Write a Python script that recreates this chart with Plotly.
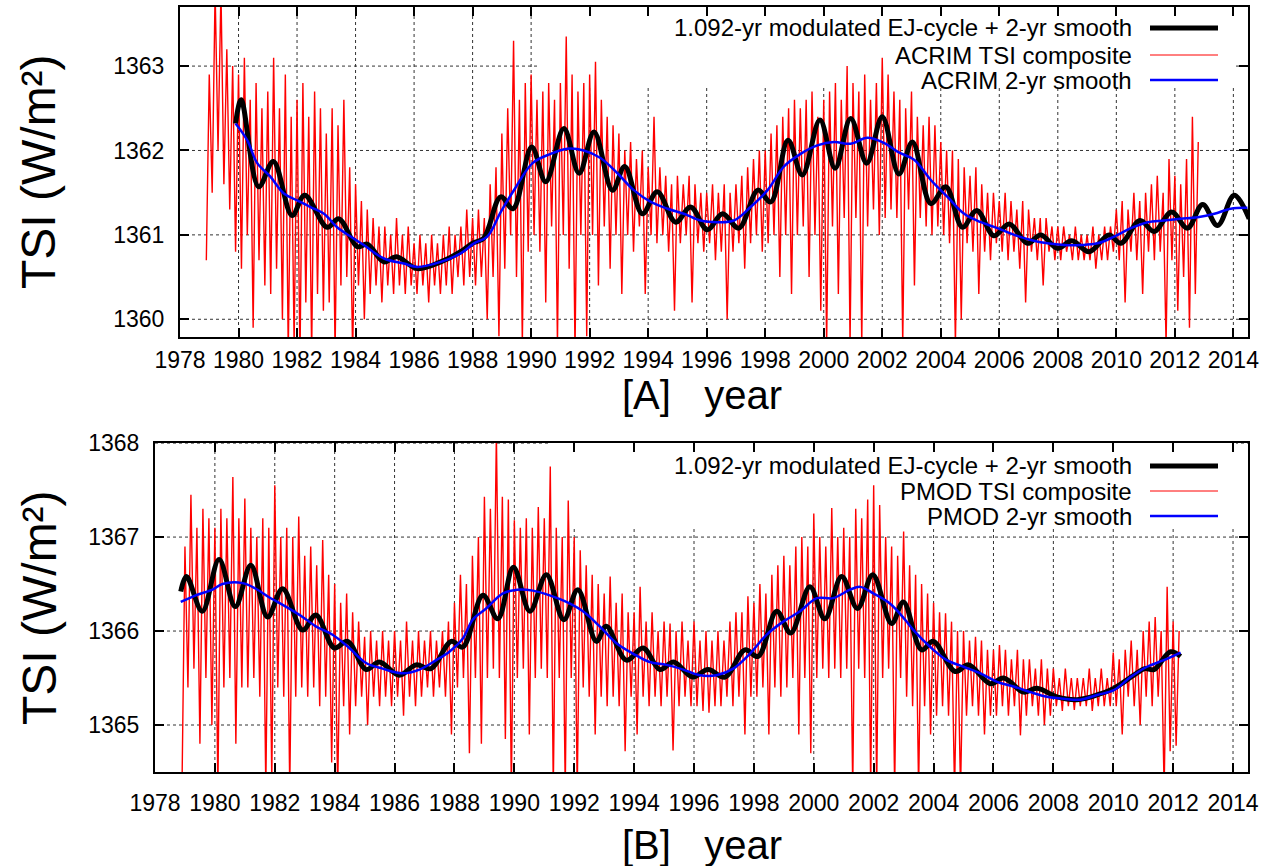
import numpy as np
import plotly.graph_objects as go

# ---------------- data ----------------
year_ticks = list(range(1978, 2015, 2))
acrim_yticks = [1360, 1361, 1362, 1363]
pmod_yticks = [1365, 1366, 1367, 1368]

# ACRIM TSI composite, sampled every 0.1 yr from 1978.9 (alternating upper/lower excursions)
acrim_red_start = 1978.9
acrim_red_step = 0.1
acrim_red = [
    1360.7,
    1362.9, 1361.5, 1363.9, 1362.0, 1363.9, 1361.6, 1363.2, 1361.3, 1363.0, 1360.8,
    1362.9, 1360.6, 1363.1, 1361.0, 1362.6, 1359.9, 1362.8, 1360.7, 1362.5, 1360.4,
    1362.7, 1360.3, 1363.1, 1360.6, 1362.5, 1360.0, 1362.9, 1359.6, 1362.4, 1359.7,
    1362.6, 1359.5, 1362.8, 1360.2, 1362.4, 1359.6, 1362.7, 1360.3, 1362.5, 1360.1,
    1362.2, 1360.2, 1362.5, 1359.6, 1362.3, 1360.4, 1362.6, 1360.5, 1361.8, 1359.6,
    1361.6, 1360.4, 1361.4, 1360.0, 1361.3, 1360.3, 1361.2, 1360.4, 1361.1, 1360.2,
    1361.1, 1360.4, 1361.0, 1360.3, 1361.2, 1360.4, 1361.0, 1360.3, 1361.1, 1360.4,
    1360.9, 1360.3, 1361.0, 1360.4, 1360.9, 1360.2, 1361.0, 1360.4, 1360.9, 1360.3,
    1361.0, 1360.4, 1361.1, 1360.3, 1361.0, 1360.5, 1361.1, 1360.4, 1361.3, 1360.5,
    1361.2, 1360.4, 1361.3, 1360.5, 1361.2, 1360.0, 1361.6, 1360.5, 1361.8, 1359.8,
    1362.2, 1360.6, 1362.5, 1361.0, 1363.3, 1360.5, 1362.6, 1359.7, 1362.8, 1360.8,
    1362.9, 1361.0, 1362.6, 1360.8, 1362.7, 1360.2, 1362.8, 1361.1, 1362.6, 1359.7,
    1362.8, 1361.0, 1363.35, 1360.6, 1362.9, 1359.6, 1362.7, 1361.0, 1362.8, 1359.8,
    1362.9, 1361.0, 1363.05, 1360.4, 1362.6, 1361.1, 1362.4, 1360.6, 1362.3, 1361.0,
    1362.2, 1360.3, 1362.0, 1361.0, 1362.1, 1360.8, 1361.9, 1361.1, 1362.0, 1360.3,
    1361.8, 1361.0, 1362.4, 1360.9, 1361.8, 1361.0, 1361.7, 1360.8, 1361.6, 1360.1,
    1361.7, 1360.9, 1361.6, 1361.0, 1361.7, 1360.2, 1361.6, 1360.9, 1361.5, 1360.8,
    1361.5, 1360.9, 1361.6, 1360.7, 1361.5, 1360.8, 1361.6, 1360.0, 1361.5, 1360.8,
    1361.6, 1360.9, 1361.7, 1360.6, 1361.8, 1360.9, 1361.9, 1361.0, 1362.0, 1360.8,
    1362.0, 1360.9, 1362.2, 1361.0, 1362.3, 1360.5, 1362.4, 1361.0, 1362.5, 1360.3,
    1362.6, 1361.0, 1362.5, 1361.1, 1362.6, 1360.5, 1362.7, 1361.0, 1362.4, 1360.1,
    1362.6, 1359.7, 1362.7, 1361.1, 1362.8, 1360.3, 1362.6, 1361.2, 1363.0, 1359.7,
    1362.8, 1361.2, 1362.7, 1359.7, 1362.9, 1361.1, 1362.6, 1361.3, 1362.8, 1361.0,
    1363.1, 1361.2, 1362.9, 1361.3, 1362.7, 1361.2, 1362.6, 1359.7, 1362.5, 1361.3,
    1362.7, 1360.4, 1362.4, 1361.2, 1362.3, 1361.1, 1362.4, 1361.0, 1362.3, 1361.1,
    1362.1, 1361.0, 1362.0, 1360.9, 1362.0, 1359.7, 1361.9, 1360.0, 1361.8, 1360.9,
    1361.7, 1360.8, 1361.8, 1360.3, 1361.6, 1360.8, 1361.5, 1360.7, 1361.5, 1360.9,
    1361.4, 1360.8, 1361.5, 1360.7, 1361.4, 1360.8, 1361.3, 1360.6, 1361.4, 1360.2,
    1361.3, 1360.8, 1361.2, 1360.7, 1361.2, 1360.4, 1361.2, 1360.8, 1361.1, 1360.7,
    1361.1, 1360.7, 1361.1, 1360.8, 1361.0, 1360.7, 1361.1, 1360.7, 1361.0, 1360.7,
    1361.0, 1360.7, 1361.1, 1360.6, 1361.0, 1360.7, 1361.1, 1360.7, 1361.1, 1360.8,
    1361.3, 1360.7, 1361.4, 1360.2, 1361.3, 1360.8, 1361.5, 1360.7, 1361.4, 1360.3,
    1361.5, 1360.8, 1361.6, 1360.7, 1361.7, 1360.8, 1361.5, 1359.7, 1361.9, 1360.7,
    1361.7, 1360.1, 1361.6, 1360.5, 1361.9, 1359.9, 1362.4, 1360.3, 1362.1,
]

# PMOD TSI composite, sampled every 0.1 yr from 1978.9
pmod_red_start = 1978.9
pmod_red_step = 0.1
pmod_red = [
    1364.3,
    1366.9, 1365.4, 1367.45, 1365.6, 1367.1, 1364.8, 1367.3, 1365.5, 1367.2, 1365.0,
    1367.1, 1364.3, 1367.3, 1365.4, 1367.2, 1365.5, 1367.64, 1364.8, 1367.2, 1365.4,
    1367.41, 1365.4, 1367.1, 1365.5, 1367.0, 1365.3, 1367.2, 1364.3, 1367.1, 1364.4,
    1367.55, 1365.4, 1367.0, 1365.3, 1367.1, 1364.3, 1367.0, 1365.3, 1367.22, 1365.4,
    1366.8, 1365.3, 1366.9, 1365.4, 1366.7, 1365.2, 1366.97, 1365.3, 1366.6, 1364.6,
    1366.5, 1364.3, 1366.3, 1365.2, 1366.4, 1364.9, 1366.2, 1365.2, 1366.1, 1365.3,
    1365.94, 1365.0, 1366.0, 1365.3, 1365.9, 1365.2, 1366.0, 1365.3, 1365.9, 1365.2,
    1366.0, 1365.3, 1365.9, 1365.1, 1366.1, 1365.3, 1365.9, 1365.2, 1366.0, 1365.3,
    1365.9, 1365.4, 1366.0, 1365.3, 1365.9, 1365.4, 1366.0, 1365.3, 1366.1, 1364.9,
    1366.3, 1365.4, 1366.6, 1365.5, 1366.5, 1364.7, 1366.8, 1365.5, 1367.0, 1364.8,
    1367.43, 1365.5, 1367.3, 1365.6, 1368.1, 1365.5, 1367.43, 1364.85, 1367.4, 1364.3,
    1367.18, 1365.5, 1367.1, 1365.6, 1367.2, 1364.9, 1367.1, 1365.5, 1367.32, 1365.6,
    1367.2, 1365.5, 1367.75, 1364.3, 1367.1, 1365.5, 1367.0, 1364.3, 1367.39, 1365.5,
    1367.0, 1364.3, 1366.86, 1365.4, 1366.7, 1365.3, 1366.6, 1364.9, 1366.5, 1365.3,
    1366.4, 1365.2, 1366.58, 1365.3, 1366.3, 1365.2, 1366.4, 1364.72, 1366.2, 1365.3,
    1366.2, 1364.9, 1366.47, 1365.3, 1366.1, 1365.2, 1366.2, 1365.3, 1366.0, 1365.2,
    1366.1, 1365.3, 1366.08, 1364.73, 1366.0, 1365.2, 1366.1, 1365.3, 1365.9, 1365.2,
    1366.1, 1365.2, 1365.9, 1365.15, 1366.0, 1365.13, 1365.9, 1365.2, 1366.0, 1365.2,
    1365.9, 1365.3, 1366.1, 1365.2, 1366.2, 1365.3, 1366.2, 1364.9, 1366.37, 1365.3,
    1366.3, 1365.3, 1366.5, 1365.4, 1366.4, 1364.9, 1366.6, 1365.4, 1366.7, 1365.3,
    1366.8, 1365.4, 1366.7, 1365.5, 1366.9, 1364.9, 1367.0, 1365.5, 1366.9, 1364.7,
    1367.25, 1365.5, 1367.0, 1365.6, 1366.9, 1365.5, 1367.31, 1365.6, 1367.0, 1365.5,
    1367.1, 1365.6, 1367.0, 1364.3, 1367.3, 1365.6, 1367.2, 1365.5, 1367.4, 1364.3,
    1367.55, 1364.3, 1367.34, 1365.5, 1367.0, 1365.6, 1366.9, 1364.3, 1366.8, 1365.5,
    1367.06, 1365.3, 1366.7, 1365.2, 1366.6, 1364.3, 1366.5, 1365.2, 1366.4, 1364.9,
    1366.3, 1365.1, 1366.2, 1365.2, 1366.19, 1365.1, 1366.1, 1364.3, 1366.0, 1364.3,
    1366.0, 1365.1, 1365.9, 1365.2, 1365.94, 1365.1, 1365.9, 1364.9, 1365.8, 1365.1,
    1365.8, 1365.1, 1365.85, 1365.2, 1365.8, 1365.1, 1365.7, 1365.2, 1365.8, 1364.89,
    1365.7, 1365.1, 1365.7, 1365.2, 1365.6, 1365.1, 1365.7, 1365.0, 1365.6, 1365.1,
    1365.6, 1365.2, 1365.5, 1365.15, 1365.6, 1365.2, 1365.5, 1365.16, 1365.5, 1365.2,
    1365.5, 1365.2, 1365.6, 1365.15, 1365.5, 1365.2, 1365.6, 1365.2, 1365.5, 1365.2,
    1365.77, 1365.2, 1365.7, 1364.9, 1365.8, 1365.3, 1365.9, 1365.2, 1365.8, 1365.0,
    1366.0, 1365.3, 1366.1, 1365.2, 1366.15, 1365.3, 1366.0, 1364.3, 1366.47, 1364.72,
    1366.1, 1364.78, 1366.0,
]

# 1.092-yr modulated EJ-cycle + 2-yr smooth (turning points)
acrim_ej_year = [1979.9, 1980.09, 1980.69, 1981.19, 1981.83, 1982.26, 1983.03, 1983.43, 1984.06,
                 1984.40, 1984.97, 1985.40, 1986.11, 1986.91, 1987.59, 1987.99, 1988.38, 1988.96,
                 1989.38, 1990.02, 1990.50, 1991.12, 1991.64, 1992.15, 1992.78, 1993.20, 1993.80,
                 1994.31, 1994.94, 1995.45, 1996.02, 1996.54, 1997.10, 1997.75, 1998.19, 1998.78,
                 1999.27, 1999.87, 2000.39, 2000.92, 2001.47, 2002.00, 2002.57, 2003.03, 2003.66,
                 2004.17, 2004.74, 2005.23, 2005.82, 2006.34, 2006.96, 2007.42, 2007.99, 2008.48,
                 2009.07, 2009.75, 2010.15, 2010.81, 2011.29, 2011.89, 2012.43, 2012.95, 2013.46,
                 2014.03, 2014.54]
acrim_ej_tsi = [1362.32, 1362.60, 1361.57, 1361.87, 1361.23, 1361.47, 1361.09, 1361.19, 1360.86,
                1360.89, 1360.68, 1360.74, 1360.60, 1360.68, 1360.80, 1360.90, 1360.96, 1361.45,
                1361.31, 1362.04, 1361.63, 1362.26, 1361.73, 1362.22, 1361.53, 1361.81, 1361.25,
                1361.51, 1361.15, 1361.33, 1361.06, 1361.25, 1361.08, 1361.53, 1361.39, 1362.12,
                1361.71, 1362.36, 1361.79, 1362.38, 1361.85, 1362.40, 1361.72, 1362.10, 1361.37,
                1361.57, 1361.09, 1361.29, 1360.99, 1361.13, 1360.90, 1361.00, 1360.84, 1360.93,
                1360.80, 1361.00, 1360.90, 1361.17, 1361.04, 1361.27, 1361.08, 1361.36, 1361.11,
                1361.47, 1361.19]

acrim_smooth_year = [1979.9, 1980.30, 1980.64, 1981.09, 1981.55, 1982.00, 1982.46, 1982.92, 1983.37,
                     1983.83, 1984.28, 1984.97, 1985.65, 1986.11, 1986.91, 1987.59, 1988.05, 1988.50,
                     1988.96, 1989.45, 1990.05, 1990.67, 1991.24, 1991.80, 1992.37, 1992.95, 1993.51,
                     1994.09, 1994.66, 1995.22, 1995.79, 1996.37, 1996.93, 1997.50, 1998.08, 1998.64,
                     1999.21, 1999.78, 2000.35, 2000.92, 2001.49, 2002.06, 2002.55, 2003.09, 2003.66,
                     2004.23, 2004.80, 2005.37, 2005.94, 2006.51, 2007.08, 2007.65, 2008.22, 2008.79,
                     2009.36, 2009.93, 2010.50, 2011.07, 2011.63, 2012.20, 2012.78, 2013.35, 2013.91,
                     2014.48]
acrim_smooth_tsi = [1362.32, 1362.12, 1361.85, 1361.69, 1361.49, 1361.41, 1361.33, 1361.25, 1361.09,
                    1360.98, 1360.88, 1360.72, 1360.66, 1360.62, 1360.68, 1360.78, 1360.90, 1360.98,
                    1361.27, 1361.55, 1361.85, 1361.96, 1362.02, 1362.00, 1361.91, 1361.73, 1361.53,
                    1361.39, 1361.31, 1361.25, 1361.17, 1361.15, 1361.17, 1361.33, 1361.53, 1361.81,
                    1361.96, 1362.06, 1362.10, 1362.08, 1362.15, 1362.09, 1361.98, 1361.89, 1361.65,
                    1361.45, 1361.25, 1361.15, 1361.08, 1361.00, 1360.94, 1360.90, 1360.88, 1360.88,
                    1360.90, 1360.98, 1361.08, 1361.15, 1361.17, 1361.19, 1361.21, 1361.25, 1361.31,
                    1361.32]

pmod_ej_year = [1978.86, 1979.05, 1979.58, 1980.14, 1980.68, 1981.20, 1981.76, 1982.26, 1982.93,
                1983.37, 1983.99, 1984.43, 1985.05, 1985.49, 1986.16, 1986.72, 1987.22, 1987.89,
                1988.28, 1988.95, 1989.45, 1989.97, 1990.52, 1991.07, 1991.65, 1992.12, 1992.74,
                1993.07, 1993.74, 1994.30, 1994.86, 1995.32, 1995.95, 1996.47, 1997.03, 1997.70,
                1998.14, 1998.76, 1999.23, 1999.87, 2000.37, 2000.93, 2001.46, 2001.97, 2002.60,
                2002.99, 2003.60, 2003.99, 2004.72, 2005.17, 2005.89, 2006.34, 2007.01, 2007.45,
                2008.12, 2008.79, 2009.46, 2010.02, 2010.69, 2011.05, 2011.36, 2011.91, 2012.25]
pmod_ej_tsi = [1366.42, 1366.58, 1366.21, 1366.76, 1366.26, 1366.70, 1366.15, 1366.45, 1366.01,
               1366.17, 1365.82, 1365.89, 1365.59, 1365.67, 1365.53, 1365.64, 1365.60, 1365.89,
               1365.83, 1366.38, 1366.13, 1366.68, 1366.21, 1366.60, 1366.12, 1366.44, 1365.89,
               1366.05, 1365.69, 1365.82, 1365.59, 1365.67, 1365.51, 1365.59, 1365.51, 1365.80,
               1365.73, 1366.21, 1365.98, 1366.47, 1366.13, 1366.58, 1366.24, 1366.60, 1366.08,
               1366.31, 1365.80, 1365.89, 1365.57, 1365.64, 1365.44, 1365.50, 1365.35, 1365.39,
               1365.30, 1365.27, 1365.32, 1365.39, 1365.53, 1365.60, 1365.59, 1365.78, 1365.73]

pmod_smooth_year = [1978.86, 1979.36, 1979.92, 1980.25, 1980.92, 1981.37, 1981.81, 1982.37, 1982.93,
                    1983.37, 1983.93, 1984.49, 1985.05, 1985.60, 1986.27, 1986.83, 1987.39, 1987.83,
                    1988.28, 1988.61, 1989.06, 1989.62, 1990.10, 1990.62, 1991.18, 1991.74, 1992.29,
                    1992.85, 1993.41, 1993.96, 1994.52, 1995.08, 1995.64, 1996.19, 1996.75, 1997.31,
                    1997.87, 1998.42, 1998.98, 1999.54, 2000.10, 2000.65, 2001.21, 2001.55, 2001.99,
                    2002.55, 2003.05, 2003.33, 2003.89, 2004.44, 2005.00, 2005.56, 2006.12, 2006.67,
                    2007.23, 2007.79, 2008.34, 2008.90, 2009.46, 2010.02, 2010.58, 2011.13, 2011.69,
                    2012.25]
pmod_smooth_tsi = [1366.31, 1366.38, 1366.44, 1366.50, 1366.51, 1366.45, 1366.36, 1366.26, 1366.15,
                   1366.05, 1365.96, 1365.82, 1365.66, 1365.60, 1365.55, 1365.59, 1365.69, 1365.78,
                   1365.92, 1366.12, 1366.24, 1366.40, 1366.44, 1366.43, 1366.38, 1366.31, 1366.21,
                   1366.05, 1365.87, 1365.76, 1365.67, 1365.64, 1365.59, 1365.53, 1365.53, 1365.60,
                   1365.76, 1365.96, 1366.10, 1366.21, 1366.35, 1366.35, 1366.44, 1366.47, 1366.40,
                   1366.29, 1366.12, 1366.01, 1365.83, 1365.69, 1365.62, 1365.55, 1365.46, 1365.41,
                   1365.35, 1365.30, 1365.28, 1365.27, 1365.32, 1365.37, 1365.51, 1365.62, 1365.69,
                   1365.77]

# ---------------- figure ----------------
WF, HF = 1276, 866
FONT = "Liberation Sans, Arial, sans-serif"


def px(x):
    return x / WF


def py(y):
    return 1 - y / HF


XR = [1978, 2014.5]
YR_A = [1359.79, 1363.70]
YR_B = [1364.5, 1368.001]
# panel pixel boxes: (left, right, top, bottom)
BOX_A = (180, 1248, 7, 337)
BOX_B = (155, 1248, 443, 772)


def to_data(box, xr, yr, X, Y):
    l, r, t, b = box
    xd = xr[0] + (X - l) / (r - l) * (xr[1] - xr[0])
    yd = yr[0] + (b - Y) / (b - t) * (yr[1] - yr[0])
    return xd, yd


acrim_red_x = np.round(acrim_red_start + acrim_red_step * np.arange(len(acrim_red)), 3)
pmod_red_x = np.round(pmod_red_start + pmod_red_step * np.arange(len(pmod_red)), 3)

RED_W = 1.4

fig = go.Figure()

# panel A
fig.add_trace(go.Scatter(x=acrim_red_x, y=acrim_red, mode="lines",
                         line=dict(color="#ff0000", width=RED_W), xaxis="x", yaxis="y",
                         name="ACRIM TSI composite", showlegend=False))
fig.add_trace(go.Scatter(x=acrim_ej_year, y=acrim_ej_tsi, mode="lines",
                         line=dict(color="black", width=5, shape="spline", smoothing=1.0),
                         xaxis="x", yaxis="y", showlegend=False,
                         name="1.092-yr modulated EJ-cycle + 2-yr smooth"))
fig.add_trace(go.Scatter(x=acrim_smooth_year, y=acrim_smooth_tsi, mode="lines",
                         line=dict(color="#0000ff", width=2.5, shape="spline"),
                         xaxis="x", yaxis="y", showlegend=False, name="ACRIM 2-yr smooth"))

# panel B
fig.add_trace(go.Scatter(x=pmod_red_x, y=pmod_red, mode="lines",
                         line=dict(color="#ff0000", width=RED_W), xaxis="x2", yaxis="y2",
                         name="PMOD TSI composite", showlegend=False))
fig.add_trace(go.Scatter(x=pmod_ej_year, y=pmod_ej_tsi, mode="lines",
                         line=dict(color="black", width=5, shape="spline", smoothing=1.0),
                         xaxis="x2", yaxis="y2", showlegend=False,
                         name="1.092-yr modulated EJ-cycle + 2-yr smooth"))
fig.add_trace(go.Scatter(x=pmod_smooth_year, y=pmod_smooth_tsi, mode="lines",
                         line=dict(color="#0000ff", width=2.5, shape="spline"),
                         xaxis="x2", yaxis="y2", showlegend=False, name="PMOD 2-yr smooth"))

axis_common = dict(
    showline=True, linecolor="black", linewidth=2, mirror="allticks",
    ticks="inside", ticklen=9, tickwidth=1.5, tickcolor="black",
    showgrid=False, zeroline=False, automargin=False,
    tickfont=dict(family=FONT, size=23, color="black"),
)

fig.update_layout(
    width=WF, height=HF, margin=dict(l=0, r=0, t=0, b=0, autoexpand=False),
    paper_bgcolor="white", plot_bgcolor="white", showlegend=False,
    font=dict(family=FONT, color="black"),
    xaxis=dict(domain=[px(BOX_A[0]), px(BOX_A[1])], range=XR, anchor="y",
               tickvals=year_ticks, ticklabelstandoff=1, **axis_common),
    yaxis=dict(domain=[py(BOX_A[3]), py(BOX_A[2])], range=YR_A, anchor="x",
               tickvals=acrim_yticks, ticklabelstandoff=9, **axis_common),
    xaxis2=dict(domain=[px(BOX_B[0]), px(BOX_B[1])], range=XR, anchor="y2",
                tickvals=year_ticks, ticklabelstandoff=9, **axis_common),
    yaxis2=dict(domain=[py(BOX_B[3]), py(BOX_B[2])], range=YR_B, anchor="x2",
                tickvals=pmod_yticks, ticklabelstandoff=9, **axis_common),
)

# dotted grid (drawn as below-trace shapes) and key boxes that hide it
grid_line = dict(color="#333333", width=1, dash="dot")
for xa, ya, yr, yt in (("x", "y", YR_A, acrim_yticks), ("x2", "y2", YR_B, pmod_yticks)):
    for xv in year_ticks[1:]:
        fig.add_shape(type="line", xref=xa, yref=ya, x0=xv, x1=xv, y0=yr[0], y1=yr[1],
                      line=grid_line, layer="below")
    for yv in yt:
        fig.add_shape(type="line", xref=xa, yref=ya, x0=XR[0], x1=XR[1], y0=yv, y1=yv,
                      line=grid_line, layer="below")

for xa, ya, box, yr, (kl, kr, kb) in (("x", "y", BOX_A, YR_A, (540, 1236, 88)),
                                      ("x2", "y2", BOX_B, YR_B, (548, 1236, 527))):
    x0, y0 = to_data(box, XR, yr, kl, kb)
    x1, _ = to_data(box, XR, yr, kr, kb)
    fig.add_shape(type="rect", xref=xa, yref=ya, x0=x0, x1=x1, y0=y0, y1=yr[1],
                  fillcolor="white", line=dict(width=0), layer="below")

# key entries
keys = [
    (28, "1.092-yr modulated EJ-cycle + 2-yr smooth", "black", 5),
    (55, "ACRIM TSI composite", "#ff0000", 1),
    (80, "ACRIM 2-yr smooth", "#0000ff", 2.5),
    (466, "1.092-yr modulated EJ-cycle + 2-yr smooth", "black", 5),
    (491, "PMOD TSI composite", "#ff0000", 1),
    (516, "PMOD 2-yr smooth", "#0000ff", 2.5),
]
for yy, txt, col, lw in keys:
    fig.add_annotation(x=px(1134), y=py(yy), xref="paper", yref="paper", text=txt,
                       showarrow=False, xanchor="right", yanchor="middle",
                       font=dict(family=FONT, size=24, color="black"))
    fig.add_shape(type="line", xref="paper", yref="paper", x0=px(1150), x1=px(1218),
                  y0=py(yy), y1=py(yy), line=dict(color=col, width=lw), layer="above")

# axis titles
for yc in (172, 608):
    fig.add_annotation(x=px(39), y=py(yc), xref="paper", yref="paper", text="TSI (W/m²)",
                       showarrow=False, textangle=-90, xanchor="center", yanchor="middle",
                       font=dict(family=FONT, size=48, color="black"))
fig.add_annotation(x=px(702), y=py(395), xref="paper", yref="paper", text="[A]   year",
                   showarrow=False, xanchor="center", yanchor="middle",
                   font=dict(family=FONT, size=40, color="black"))
fig.add_annotation(x=px(702), y=py(845), xref="paper", yref="paper", text="[B]   year",
                   showarrow=False, xanchor="center", yanchor="middle",
                   font=dict(family=FONT, size=40, color="black"))

fig.write_html("out.html", config={"displayModeBar": False},
               post_script="document.body.style.margin='0px';")
